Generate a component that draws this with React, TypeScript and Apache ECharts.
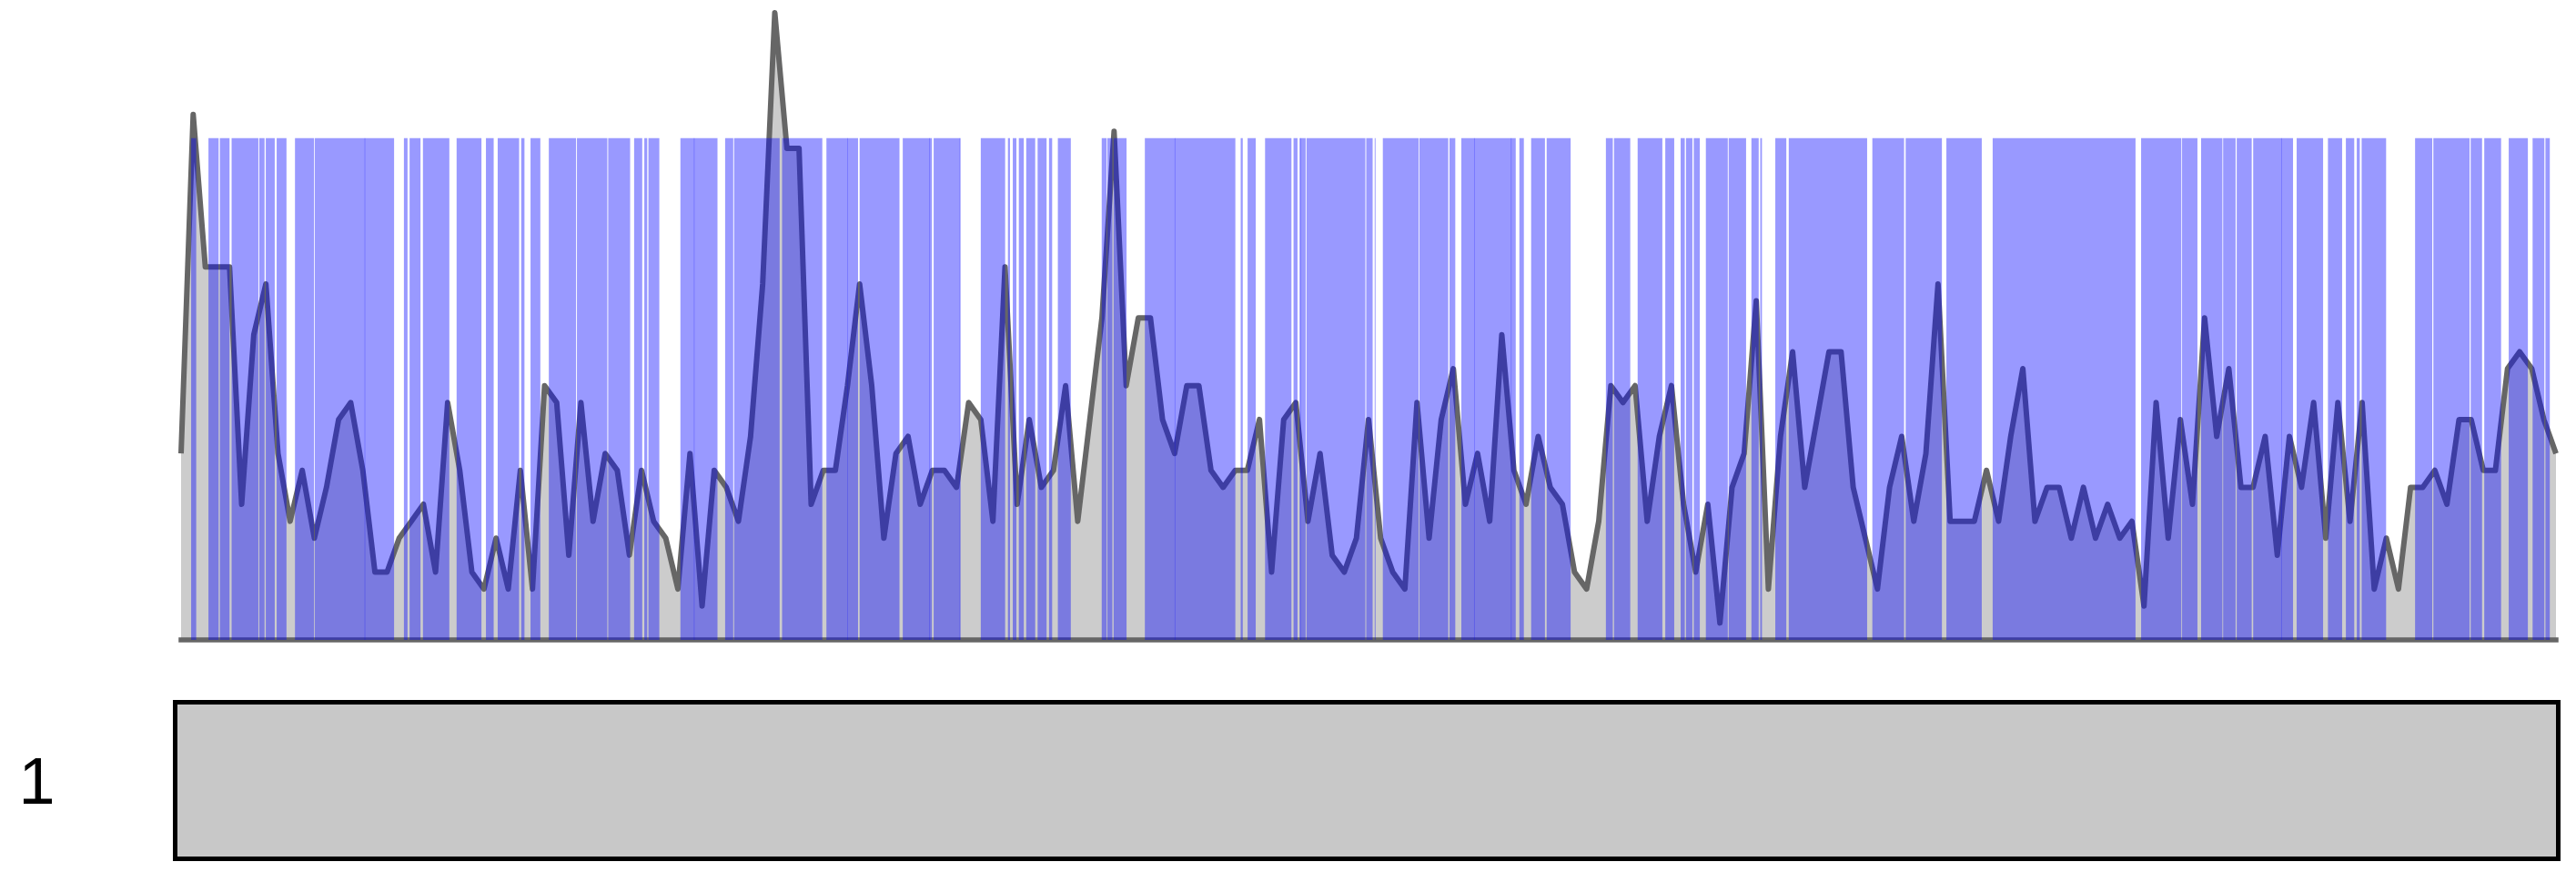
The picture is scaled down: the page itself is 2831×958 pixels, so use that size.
import React, { useEffect, useRef } from "react";
import * as echarts from "echarts";

// Signal values, one per position (index 0..196)
const VALUES: number[] = [
  11, 31, 22, 22, 22, 8, 18, 21, 11, 7,
  10, 6, 9, 13, 14, 10, 4, 4, 6, 7,
  8, 4, 14, 10, 4, 3, 6, 3, 10, 3,
  15, 14, 5, 14, 7, 11, 10, 5, 10, 7,
  6, 3, 11, 2, 10, 9, 7, 12, 21, 37,
  29, 29, 8, 10, 10, 15, 21, 15, 6, 11,
  12, 8, 10, 10, 9, 14, 13, 7, 22, 8,
  13, 9, 10, 15, 7, 13, 19, 30, 15, 19,
  19, 13, 11, 15, 15, 10, 9, 10, 10, 13,
  4, 13, 14, 7, 11, 5, 4, 6, 13, 6,
  4, 3, 14, 6, 13, 16, 8, 11, 7, 18,
  10, 8, 12, 9, 8, 4, 3, 7, 15, 14,
  15, 7, 12, 15, 8, 4, 8, 1, 9, 11,
  20, 3, 12, 17, 9, 13, 17, 17, 9, 6,
  3, 9, 12, 7, 11, 21, 7, 7, 7, 10,
  7, 12, 16, 7, 9, 9, 6, 9, 6, 8,
  6, 7, 2, 14, 6, 13, 8, 19, 12, 16,
  9, 9, 12, 5, 12, 9, 14, 6, 14, 7,
  14, 3, 6, 3, 9, 9, 10, 8, 13, 13,
  10, 10, 16, 17, 16, 13, 11,
];

// Highlighted regions [start, end] in position units
const BANDS: number[][] = [
  [0.83, 1.25], [2.26, 3.1], [3.2, 4.0], [4.17, 6.38], [6.45, 6.89],
  [6.99, 7.73], [7.89, 8.7], [9.4, 10.98], [11.04, 15.19], [15.15, 17.58],
  [18.39, 18.69], [18.86, 19.76], [19.96, 22.14], [22.74, 24.79], [25.16, 25.8],
  [26.13, 27.9], [28.07, 28.34], [28.84, 29.65], [30.35, 32.6], [32.67, 35.18],
  [35.25, 37.06], [37.39, 38.06], [38.23, 38.47], [38.57, 39.47], [41.21, 42.37],
  [42.33, 44.27], [44.9, 45.57], [45.64, 49.4], [49.6, 52.92], [53.26, 55.02],
  [54.98, 55.87], [56.0, 59.29], [59.56, 61.8], [61.76, 61.97], [62.11, 64.31],
  [64.26, 64.31], [66.0, 68.01], [68.24, 68.41], [68.64, 68.94], [69.14, 69.55],
  [69.75, 70.49], [70.69, 71.43], [71.63, 71.89], [72.36, 73.43], [75.98, 76.39],
  [76.45, 76.86], [76.96, 78.03], [79.54, 82.04], [82.0, 87.01], [87.45, 87.62],
  [88.02, 88.69], [89.46, 91.64], [91.81, 92.14], [92.31, 92.4], [92.36, 92.81],
  [92.88, 97.74], [97.81, 98.34], [98.51, 98.58], [99.18, 102.14], [102.2, 104.58],
  [104.68, 105.16], [105.66, 106.75], [106.71, 109.8], [109.76, 110.15], [110.45, 110.82],
  [111.42, 112.56], [112.7, 114.68], [117.59, 118.16], [118.26, 119.6], [120.21, 122.25],
  [122.49, 123.23], [123.76, 124.1], [124.2, 124.73], [124.84, 125.34], [125.84, 127.65],
  [127.72, 129.16], [129.6, 130.2], [130.33, 130.47], [131.57, 132.48], [132.68, 139.15],
  [139.58, 142.2], [142.33, 145.32], [145.69, 148.61], [149.51, 161.3], [161.76, 165.08],
  [165.14, 166.41], [166.71, 168.47], [168.53, 169.56], [169.65, 170.89], [171.01, 173.36],
  [173.32, 174.3], [174.6, 176.78], [177.18, 178.35], [178.66, 179.35], [179.56, 179.81],
  [179.96, 181.98], [184.37, 185.79], [185.88, 188.87], [188.96, 189.9], [190.08, 191.47],
  [192.1, 193.68], [194.07, 195.04], [195.13, 195.49],
];

const TRACKS: string[] = ["1"];

const X_MAX = VALUES.length - 1;
const Y_MAX = 37;
const BAND_TOP = Y_MAX * 0.8;

export default function App() {
  const ref = useRef<HTMLDivElement>(null);

  useEffect(() => {
    document.body.style.margin = "0";
    const chart = echarts.init(ref.current as HTMLDivElement, null, { renderer: "svg" });
    chart.setOption({
      animation: false,
      grid: [
        { left: 199, top: 14, width: 2610, height: 689 },
        {
          left: 192.5,
          top: 771.5,
          width: 2619,
          height: 172,
          show: true,
          backgroundColor: "#c8c8c8",
          borderColor: "#000000",
          borderWidth: 5,
        },
      ],
      xAxis: [
        {
          type: "value",
          gridIndex: 0,
          min: 0,
          max: X_MAX,
          z: 3,
          axisLine: { show: true, onZero: false, lineStyle: { color: "#666666", width: 5.5, cap: "square" } },
          axisTick: { show: false },
          axisLabel: { show: false },
          splitLine: { show: false },
        },
        { type: "value", gridIndex: 1, min: 0, max: X_MAX, show: false },
      ],
      yAxis: [
        { type: "value", gridIndex: 0, min: 0, max: Y_MAX, show: false },
        {
          type: "category",
          gridIndex: 1,
          data: TRACKS,
          axisLine: { show: false },
          axisTick: { show: false },
          splitLine: { show: false },
          axisLabel: {
            fontSize: 72,
            color: "#000000",
            fontFamily: '"Liberation Sans", Arial, sans-serif',
            margin: 132,
          },
        },
      ],
      series: [
        {
          type: "line",
          xAxisIndex: 0,
          yAxisIndex: 0,
          data: VALUES.map((v, i) => [i, v]),
          showSymbol: false,
          symbol: "none",
          clip: false,
          z: 2,
          lineStyle: { color: "#666666", width: 6, join: "round" },
          areaStyle: { color: "#cccccc", opacity: 1 },
        },
        {
          type: "custom",
          xAxisIndex: 0,
          yAxisIndex: 0,
          z: 5,
          data: BANDS,
          encode: { x: [0, 1] },
          renderItem: (params: any, api: any) => {
            const tl = api.coord([api.value(0), BAND_TOP]);
            const br = api.coord([api.value(1), 0]);
            return {
              type: "rect",
              shape: { x: tl[0], y: tl[1], width: br[0] - tl[0], height: br[1] - tl[1] },
              style: { fill: "rgba(0,0,255,0.4)" },
            };
          },
        },
      ],
    });
    return () => chart.dispose();
  }, []);

  return <div ref={ref} style={{ width: 2831, height: 958 }} />;
}
